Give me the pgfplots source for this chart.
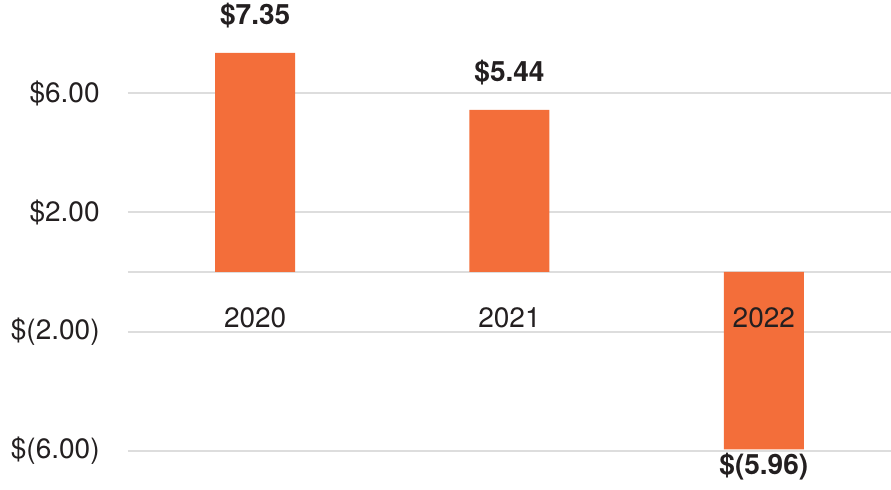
\documentclass[border=0pt]{standalone}
\usepackage{pgfplots}
\pgfplotsset{compat=1.18}
\usepackage{fontspec}
\setmainfont{TeX Gyre Heros}
\definecolor{barorange}{RGB}{243,110,58}
\definecolor{gridgray}{RGB}{221,221,221}
\definecolor{txt}{RGB}{35,31,32}
\begin{document}
\begin{tikzpicture}
\useasboundingbox (-64pt,0pt) rectangle (381.5pt,245pt);
\begin{axis}[
  at={(0pt,0pt)}, anchor=south west,
  scale only axis,
  width=381.5pt, height=245pt,
  xmin=-0.5, xmax=2.5,
  ymin=-7.32, ymax=9.13,
  axis lines=none,
  clip=false,
  ytick={-6,-2,2,6},
  yticklabels={\$(6.00),\$(2.00),\$2.00,\$6.00},
  xtick=\empty,
  font=\fontsize{14}{16}\selectfont\color{txt},
  /pgf/number format/assume math mode=true,
]
% grid lines drawn through data
\foreach \yv in {-6,-2,0,2,6}{
  \edef\temp{\noexpand\addplot[gridgray, line width=1pt, forget plot] coordinates {(-0.5,\yv) (2.5,\yv)};}
  \temp
}
\addplot[ybar, bar width=40pt, fill=barorange, draw=none, bar shift=0pt] coordinates {(0,7.35) (1,5.44) (2,-5.96)};
% tick labels
\foreach \yv/\lab in {-6/\$(6.00),-2/\$(2.00),2/\$2.00,6/\$6.00}{
  \edef\temp{\noexpand\node[anchor=east, inner sep=0pt, font=\noexpand\fontsize{14}{16}\noexpand\selectfont\noexpand\color{txt}] at (axis cs:-0.5,\yv) [xshift=-14pt] {\lab};}
  \temp
}
\node[font=\fontsize{14}{16}\selectfont\color{txt}] at (axis cs:0,-1.55) {2020};
\node[font=\fontsize{14}{16}\selectfont\color{txt}] at (axis cs:1,-1.55) {2021};
\node[font=\fontsize{14}{16}\selectfont\color{txt}] at (axis cs:2,-1.55) {2022};
\node[font=\fontsize{14}{16}\selectfont\bfseries\color{txt}] at (axis cs:0,8.59) {\$7.35};
\node[font=\fontsize{14}{16}\selectfont\bfseries\color{txt}] at (axis cs:1,6.68) {\$5.44};
\node[font=\fontsize{14}{16}\selectfont\bfseries\color{txt}] at (axis cs:2,-6.54) {\$(5.96)};
\end{axis}
\end{tikzpicture}
\end{document}
